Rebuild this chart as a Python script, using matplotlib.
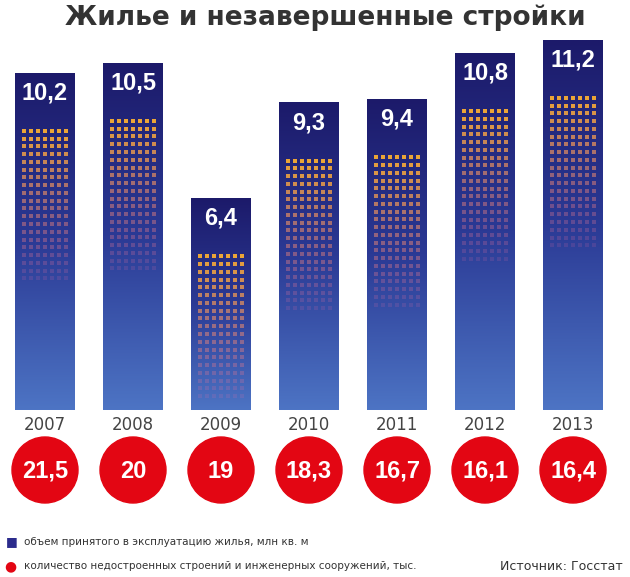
import numpy as np
import matplotlib.pyplot as plt
from matplotlib.colors import LinearSegmentedColormap
from matplotlib.patches import Ellipse

years = ["2007", "2008", "2009", "2010", "2011", "2012", "2013"]
housing = [10.2, 10.5, 6.4, 9.3, 9.4, 10.8, 11.2]
unfinished = ["21,5", "20", "19", "18,3", "16,7", "16,1", "16,4"]

fig = plt.figure(figsize=(6.3, 5.77), dpi=100)
W, H = 630, 577
ax = fig.add_axes([0, (H - 410) / H, 1, 370 / H])
ax.set_xlim(-45 / 88, (630 - 45) / 88)
ax.set_ylim(0, 11.2)
ax.axis("off")

cmap = LinearSegmentedColormap.from_list("bar", ["#4d74c4", "#2b3a95", "#1c1a6a"])
grad = np.linspace(0, 1, 256).reshape(-1, 1)
bw = 0.68
for i, v in enumerate(housing):
    ax.imshow(grad, cmap=cmap, origin="lower", aspect="auto",
              extent=(i - bw / 2, i + bw / 2, 0, v), zorder=1)
    # dot grid
    top = v - 1.75
    bottom = top - 4.6 if v > 8 else 0.3
    rows = np.arange(top, bottom, -0.235)
    cols = np.linspace(i - 0.24, i + 0.24, 7)
    for k, r in enumerate(rows):
        f = k / max(len(rows) - 1, 1)
        c = (0.97 - 0.05 * f, 0.68 - 0.25 * f, 0.2 + 0.45 * f)
        ax.scatter(cols, [r] * len(cols), s=9, marker="s", color=c,
                   alpha=0.95 - 0.8 * f, linewidths=0, zorder=2)
    ax.text(i, v - 0.6, f"{v:.1f}".replace(".", ","), ha="center", va="center",
            color="white", fontsize=17, fontfamily="Liberation Sans",
            fontweight="bold", zorder=3)

# years and circles
ax2 = fig.add_axes([0, (H - 520) / H, 1, 110 / H])
ax2.set_xlim(-45 / 88, (630 - 45) / 88)
ax2.set_ylim(520, 410)
ax2.axis("off")
for i, (y, u) in enumerate(zip(years, unfinished)):
    ax2.text(i, 425, y, ha="center", va="center", fontsize=12, color="#444444")
    ax2.add_patch(Ellipse((i, 470), 66 / 88, 66, color="#e30613", zorder=0))
    ax2.text(i, 471, u, ha="center", va="center", color="white", fontsize=17,
             fontfamily="Liberation Sans", fontweight="bold")

fig.text(65 / W, 1 - 18 / H, "Жилье и незавершенные стройки", fontsize=19,
         color="#333333", va="center", ha="left", fontweight="bold")
fig.text(6 / W, 1 - 542 / H, "■", color="#2b2b8c", fontsize=9, va="center")
fig.text(24 / W, 1 - 542 / H, "объем принятого в эксплуатацию жилья, млн кв. м",
         fontsize=7.5, color="#333333", va="center")
fig.text(4 / W, 1 - 566 / H, "●", color="#e30613", fontsize=10, va="center")
fig.text(24 / W, 1 - 566 / H,
         "количество недостроенных строений и инженерных сооружений, тыс.",
         fontsize=7.5, color="#333333", va="center")
fig.text(500 / W, 1 - 566 / H, "Источник: Госстат", fontsize=9, color="#333333",
         va="center")

fig.savefig("out.png", dpi=100)
